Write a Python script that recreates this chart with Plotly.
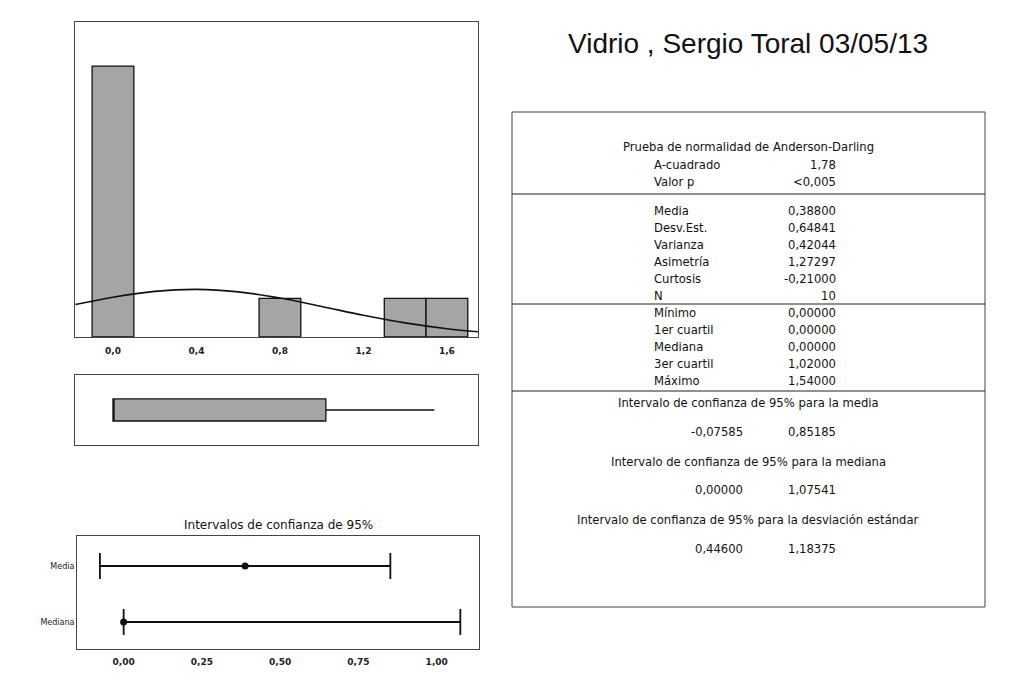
import plotly.graph_objects as go

# ---------------- data ----------------
bin_centers = [0.0, 0.8, 1.4, 1.6]
bin_counts = [7, 1, 1, 1]
bin_width = 0.2

# fitted normal curve (counts scale)
curve_x = [-0.18, 0.0, 0.2, 0.4, 0.6, 0.8, 1.0, 1.2, 1.4, 1.6, 1.75]
curve_y = [0.838, 1.029, 1.180, 1.230, 1.167, 1.006, 0.788, 0.562, 0.364, 0.2145, 0.1355]

hist_tick_vals = [0.0, 0.4, 0.8, 1.2, 1.6]
hist_tick_text = ["0,0", "0,4", "0,8", "1,2", "1,6"]

ci_rows = ["Media", "Mediana"]
ci_center = [0.388, 0.0]
ci_low = [-0.07585, 0.0]
ci_high = [0.85185, 1.07541]
ci_tick_vals = [0.0, 0.25, 0.5, 0.75, 1.0]
ci_tick_text = ["0,00", "0,25", "0,50", "0,75", "1,00"]

main_title = "Vidrio , Sergio Toral 03/05/13"
ci_title = "Intervalos de confianza de 95%"

ad_header = "Prueba de normalidad de Anderson-Darling"
ad_labels = ["A-cuadrado", "Valor p"]
ad_values = ["1,78", "<0,005"]

desc_labels = ["Media", "Desv.Est.", "Varianza", "Asimetría", "Curtosis", "N"]
desc_values = [0.38800, 0.64841, 0.42044, 1.27297, -0.21000, 10]

quart_labels = ["Mínimo", "1er cuartil", "Mediana", "3er cuartil", "Máximo"]
quart_values = [0.0, 0.0, 0.0, 1.02, 1.54]

ci_titles = ["Intervalo de confianza de 95% para la media",
             "Intervalo de confianza de 95% para la mediana",
             "Intervalo de confianza de 95% para la desviación estándar"]
ci_table_low = [-0.07585, 0.0, 0.44600]
ci_table_high = [0.85185, 1.07541, 1.18375]


def fmt(v):
    if isinstance(v, int):
        return str(v)
    return f"{v:.5f}".replace(".", ",")


# ---------------- geometry helpers ----------------
W, H = 1013, 684


def fx(px):
    return px / W


def fy(py):
    return 1 - py / H


TXT = "DejaVu Sans"
INK = "#111111"
FRAME = "#444444"

fig = go.Figure()

# histogram
fig.add_trace(go.Bar(x=bin_centers, y=bin_counts, width=bin_width,
                     marker=dict(color="#a5a5a5", line=dict(color=INK, width=1.3)),
                     xaxis="x", yaxis="y", hoverinfo="skip"))
fig.add_trace(go.Scatter(x=curve_x, y=curve_y, mode="lines",
                         line=dict(color=INK, width=1.6, shape="spline"),
                         xaxis="x", yaxis="y", hoverinfo="skip"))

# boxplot
q_min, q1, q_med, q3, q_max = quart_values
fig.add_trace(go.Box(y=[0], q1=[q1], median=[q_med], q3=[q3],
                     lowerfence=[q_min], upperfence=[q_max],
                     orientation="h", width=0.63, whiskerwidth=0,
                     fillcolor="#a5a5a5", line=dict(color=INK, width=1.3),
                     boxpoints=False, xaxis="x2", yaxis="y2", hoverinfo="skip"))

# confidence intervals
fig.add_trace(go.Scatter(
    x=ci_center, y=ci_rows, mode="markers",
    marker=dict(color=INK, size=7),
    error_x=dict(type="data", symmetric=False,
                 array=[h - c for h, c in zip(ci_high, ci_center)],
                 arrayminus=[c - l for c, l in zip(ci_center, ci_low)],
                 color=INK, thickness=1.8, width=13),
    xaxis="x3", yaxis="y3", hoverinfo="skip"))

frame = dict(showline=True, mirror=True, linecolor=FRAME, linewidth=1,
             showgrid=False, zeroline=False, ticks="")
tickfont = dict(family=TXT, size=9, color="#222", weight="bold")

fig.update_layout(
    width=W, height=H, margin=dict(l=0, r=0, t=0, b=0),
    paper_bgcolor="white", plot_bgcolor="white", showlegend=False,
    xaxis=dict(domain=[fx(75), fx(478)], range=[-0.182, 1.749], anchor="y",
               tickvals=hist_tick_vals, ticktext=hist_tick_text, tickfont=tickfont,
               ticklabelstandoff=5, **frame),
    yaxis=dict(domain=[fy(337), fy(22)], range=[0, 8.14], anchor="x",
               showticklabels=False, **frame),
    xaxis2=dict(domain=[fx(75), fx(478)], range=[-0.182, 1.749], anchor="y2",
                showticklabels=False, **frame),
    yaxis2=dict(domain=[fy(445), fy(375)], range=[-1, 1], anchor="x2",
                showticklabels=False, **frame),
    xaxis3=dict(domain=[fx(77), fx(479)], range=[-0.149, 1.135], anchor="y3",
                tickvals=ci_tick_vals, ticktext=ci_tick_text, tickfont=tickfont,
                ticklabelstandoff=4, **frame),
    yaxis3=dict(domain=[fy(649), fy(536)], type="category",
                categoryarray=["Mediana", "Media"], range=[-0.482, 1.536], anchor="x3",
                tickfont=dict(family=TXT, size=8, color="#222"), **frame),
)

ann = []


def text(x, y, s, font, xanchor="center"):
    ann.append(dict(x=x, y=y, xref="paper", yref="paper", text=s, showarrow=False,
                    font=font, xanchor=xanchor, yanchor="middle"))


# titles
text(fx(748), fy(43), main_title, dict(family="Liberation Sans", size=28, color="#111"))
text(fx(278), fy(525), ci_title, dict(family=TXT, size=12, color="#111"))

tf = dict(family=TXT, size=11.6, color="#111")
LAB_X = fx(652)
VAL_X = fx(838)
LOW_X = fx(745)
CEN_X = fx(748)


def row(label, value, py):
    text(LAB_X, fy(py), label, tf, "left")
    text(VAL_X, fy(py), value, tf, "right")


text(CEN_X, fy(147), ad_header, tf)
for i, (l, v) in enumerate(zip(ad_labels, ad_values)):
    row(l, v, 165 + 16.5 * i)
for i, (l, v) in enumerate(zip(desc_labels, desc_values)):
    row(l, fmt(v), 211 + 17 * i)
for i, (l, v) in enumerate(zip(quart_labels, quart_values)):
    row(l, fmt(v), 313 + 17 * i)
for i, (t, lo, hi) in enumerate(zip(ci_titles, ci_table_low, ci_table_high)):
    y0 = 403 + 58.5 * i
    text(CEN_X, fy(y0), t, tf)
    text(LOW_X, fy(y0 + 29), fmt(lo), tf, "right")
    text(VAL_X, fy(y0 + 29), fmt(hi), tf, "right")

shapes = [dict(type="rect", xref="paper", yref="paper", x0=fx(512), x1=fx(985),
               y0=fy(607), y1=fy(112), line=dict(color=FRAME, width=1))]
for py in [194, 304, 391]:
    shapes.append(dict(type="line", xref="paper", yref="paper", x0=fx(512), x1=fx(985),
                       y0=fy(py), y1=fy(py), line=dict(color="#222", width=1)))

fig.update_layout(annotations=ann, shapes=shapes)

fig.write_html("out.html", config={"displayModeBar": False},
               post_script="document.body.style.margin='0';")
